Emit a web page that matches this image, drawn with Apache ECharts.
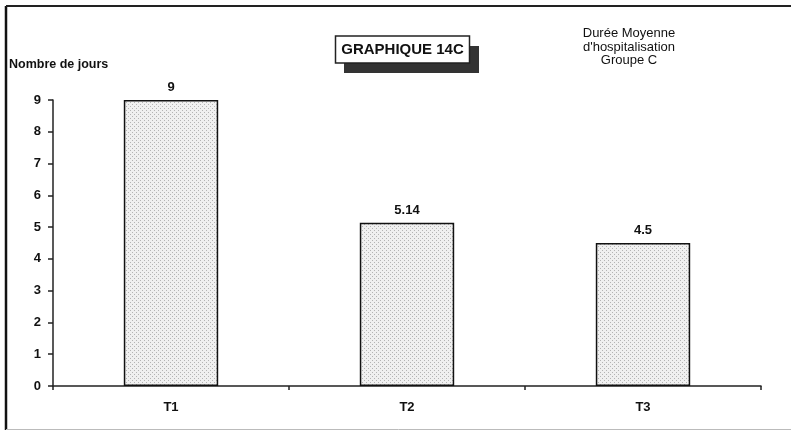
<!DOCTYPE html>
<html>
<head>
<meta charset="utf-8">
<script src="https://cdn.jsdelivr.net/npm/echarts@6/dist/echarts.min.js"></script>
<style>
html,body{margin:0;padding:0;background:#fff;}
#chart{width:791px;height:432px;}
</style>
</head>
<body>
<div id="chart"></div>
<script>
const categories = ['T1', 'T2', 'T3'];
const values = [9, 5.14, 4.5];
const valueLabels = ['9', '5.14', '4.5'];
const yTicks = [0, 1, 2, 3, 4, 5, 6, 7, 8, 9];
const titleText = 'GRAPHIQUE 14C';
const subtitleLines = ['Durée Moyenne', "d'hospitalisation", 'Groupe C'];
const yAxisName = 'Nombre de jours';

const FONT = '"Liberation Sans", Arial, sans-serif';

// dotted fill pattern
const pat = document.createElement('canvas');
pat.width = 4; pat.height = 4;
const pc = pat.getContext('2d');
pc.fillStyle = '#f0f0f0';
pc.fillRect(0, 0, 4, 4);
pc.fillStyle = '#b4b4b4';
pc.fillRect(0, 0, 1, 1);
pc.fillRect(2, 2, 1, 1);

const chart = echarts.init(document.getElementById('chart'), null, {renderer: 'canvas'});

chart.setOption({
  backgroundColor: '#ffffff',
  animation: false,
  grid: {left: 53, right: 30, top: 100, bottom: 46, containLabel: false},
  xAxis: {
    type: 'category',
    data: categories,
    boundaryGap: true,
    axisLine: {lineStyle: {color: '#222', width: 1.5}},
    axisTick: {show: true, length: 4, lineStyle: {color: '#222', width: 1.5}},
    axisLabel: {color: '#111', fontFamily: FONT, fontWeight: 'bold', fontSize: 13, margin: 15}
  },
  yAxis: {
    type: 'value',
    min: yTicks[0],
    max: yTicks[yTicks.length - 1],
    interval: 1,
    axisLine: {show: true, lineStyle: {color: '#222', width: 1.5}},
    axisTick: {show: true, length: 5, lineStyle: {color: '#222', width: 1.5}},
    splitLine: {show: false},
    axisLabel: {color: '#111', fontFamily: FONT, fontWeight: 'bold', fontSize: 13, margin: 12}
  },
  series: [{
    type: 'bar',
    data: values,
    barWidth: '40%',
    itemStyle: {
      color: {image: pat, repeat: 'repeat'},
      borderColor: '#111',
      borderWidth: 1.5
    },
    label: {
      show: true,
      position: 'top',
      distance: 6,
      color: '#111',
      fontFamily: FONT,
      fontWeight: 'bold',
      fontSize: 13,
      formatter: p => valueLabels[p.dataIndex]
    }
  }],
  graphic: [
    // frame
    {type: 'line', shape: {x1: 6, y1: 6, x2: 6, y2: 430}, style: {stroke: '#111', lineWidth: 2.5}},
    {type: 'line', shape: {x1: 6, y1: 6, x2: 791, y2: 6}, style: {stroke: '#222', lineWidth: 2}},
    {type: 'line', shape: {x1: 6, y1: 429.5, x2: 791, y2: 429.5}, style: {stroke: '#bbb', lineWidth: 1}},
    // title box shadow + box
    {type: 'rect', shape: {x: 344, y: 46, width: 135, height: 27}, style: {fill: '#333'}},
    {type: 'rect', shape: {x: 335.5, y: 36, width: 134, height: 27}, style: {fill: '#fff', stroke: '#222', lineWidth: 1.5}},
    {type: 'text', x: 402.5, y: 49.5, style: {text: titleText, fill: '#111', font: 'bold 15px ' + FONT, align: 'center', verticalAlign: 'middle'}},
    // subtitle
    {type: 'text', x: 629, y: 27, style: {text: subtitleLines.join('\n'), fill: '#111', font: '13px ' + FONT, align: 'center', verticalAlign: 'top', lineHeight: 13.5}},
    // y axis name
    {type: 'text', x: 9, y: 65, style: {text: yAxisName, fill: '#111', font: 'bold 12.5px ' + FONT, align: 'left', verticalAlign: 'middle'}}
  ]
});
</script>
</body>
</html>
